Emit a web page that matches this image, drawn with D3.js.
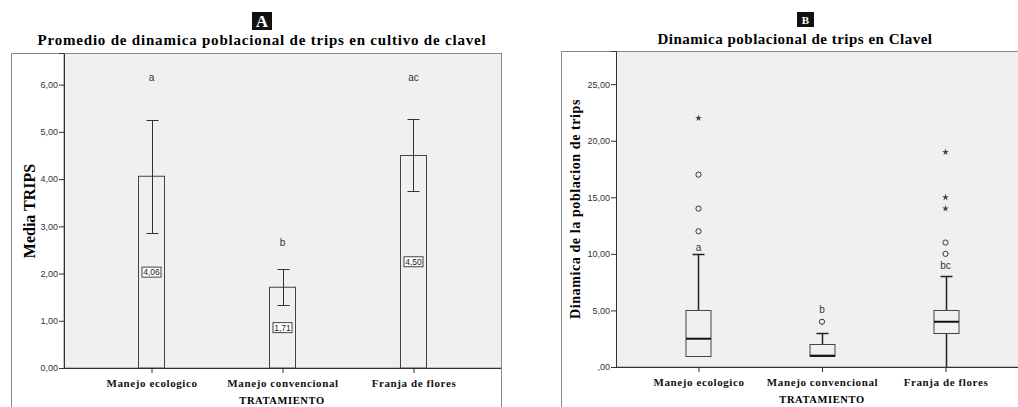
<!DOCTYPE html>
<html>
<head>
<meta charset="utf-8">
<script src="https://cdn.jsdelivr.net/npm/d3@7"></script>
<style>
  body { margin: 0; background: #fff; }
  text { font-family: "Liberation Sans", Arial, sans-serif; }
  .serif { font-family: "Liberation Serif", "Times New Roman", serif; font-weight: bold; }
</style>
</head>
<body>
<div id="chart"></div>
<script>
// data
var categories = ["Manejo ecologico", "Manejo convencional", "Franja de flores"];

// panel A: means with error bars
var meanValues = [4.06, 1.71, 4.50];
var errLow = [2.86, 1.33, 3.74];
var errHigh = [5.25, 2.09, 5.27];
var lettersA = ["a", "b", "ac"];
var lettersAPos = [6.15, 2.65, 6.15];
var ticksA = [0, 1, 2, 3, 4, 5, 6];

// panel B: boxplots
var whiskerLow = [1, 1, 0];
var q1 = [1, 1, 3];
var medians = [2.5, 1, 4];
var q3 = [5, 2, 5];
var whiskerHigh = [10, 3, 8];
var outliers = [[12, 14, 17], [4], [10, 11]];
var extremes = [[22], [], [14, 15, 19]];
var lettersB = ["a", "b", "bc"];
var lettersBPos = [10.6, 5.1, 9.0];
var ticksB = [0, 5, 10, 15, 20, 25];

var width = 1018,
    height = 407;

var svg = d3.select("#chart")
  .append("svg")
    .attr("width", width)
    .attr("height", height);

var fmt = function(d) { return d3.format(".2f")(d).replace(".", ","); };

// ---------- panel A ----------
var xA = d3.scalePoint().domain(categories).range([64, 501]).padding(0.668);
var yA = d3.scaleLinear().domain([0, 6.67]).range([368, 53]);

// outer frame
svg.append("path")
  .attr("d", "M11.5,410 V53.5 H501.5 V410")
  .attr("fill", "none").attr("stroke", "#888");

svg.append("rect")
  .attr("x", 64).attr("y", 53.5)
  .attr("width", 437.5).attr("height", 368 - 53.5)
  .attr("fill", "#f0f0f0").attr("stroke", "#888");

var gA = svg.append("g");

gA.selectAll(".bar")
  .data(meanValues)
  .enter()
  .append("rect")
    .attr("x", function(d, i) { return xA(categories[i]) - 13; })
    .attr("y", function(d) { return yA(d); })
    .attr("width", 26)
    .attr("height", function(d) { return yA(0) - yA(d); })
    .attr("fill", "#f0f0f0")
    .attr("stroke", "#444");

// error bars
gA.selectAll(".err")
  .data(meanValues)
  .enter()
  .append("path")
    .attr("d", function(d, i) {
      var cx = Math.round(xA(categories[i])) + 0.5;
      var lo = Math.round(yA(errLow[i])) + 0.5, hi = Math.round(yA(errHigh[i])) + 0.5;
      return "M" + (cx - 6) + "," + hi + "H" + (cx + 6) +
             "M" + cx + "," + hi + "V" + lo +
             "M" + (cx - 6) + "," + lo + "H" + (cx + 6);
    })
    .attr("fill", "none").attr("stroke", "#333");

// value labels in small boxes
var lab = gA.selectAll(".lab")
  .data(meanValues)
  .enter()
  .append("g")
    .attr("transform", function(d, i) {
      return "translate(" + xA(categories[i]) + "," + yA(d / 2) + ")";
    });
lab.append("rect")
  .attr("x", -9.5).attr("y", -5)
  .attr("width", 19).attr("height", 10)
  .attr("fill", "#fff").attr("stroke", "#444");
lab.append("text")
  .text(function(d) { return d.toFixed(2).replace(".", ","); })
  .attr("text-anchor", "middle")
  .attr("dy", "0.35em")
  .style("font-size", "8.5px")
  .attr("fill", "#222");

gA.selectAll(".let")
  .data(lettersA)
  .enter()
  .append("text")
    .text(function(d) { return d; })
    .attr("x", function(d, i) { return xA(categories[i]); })
    .attr("y", function(d, i) { return yA(lettersAPos[i]); })
    .attr("dy", "0.35em")
    .attr("text-anchor", "middle")
    .style("font-size", "10px")
    .attr("fill", "#333");

var axA = svg.append("g")
  .attr("transform", "translate(64,0)")
  .call(d3.axisLeft(yA).tickValues(ticksA).tickFormat(fmt).tickSize(5).tickPadding(1));
axA.select(".domain").attr("stroke", "#333");
axA.selectAll(".tick line").attr("stroke", "#333");
axA.selectAll(".tick text").style("font-size", "9px").style("font-family", "Liberation Sans, Arial, sans-serif").attr("fill", "#333");

var axAx = svg.append("g")
  .attr("transform", "translate(0,368)")
  .call(d3.axisBottom(xA).tickSize(5).tickPadding(6));
axAx.select(".domain").attr("stroke", "#333").attr("d", "M64,0.5H501");
axAx.selectAll(".tick line").attr("stroke", "#333");
axAx.selectAll(".tick text")
  .attr("class", "serif")
  .style("font-size", "11px")
  .style("letter-spacing", "0.6px")
  .style("font-family", "Liberation Serif, serif")
  .attr("fill", "#111");

svg.append("text").attr("class", "serif")
  .attr("x", 282).attr("y", 404).attr("text-anchor", "middle")
  .style("font-size", "10.5px").style("letter-spacing", "0.6px").text("TRATAMIENTO");

svg.append("text").attr("class", "serif")
  .attr("transform", "translate(35,211) rotate(-90)")
  .attr("text-anchor", "middle")
  .style("font-size", "16px").text("Media TRIPS");

svg.append("rect").attr("x", 252).attr("y", 12).attr("width", 20).attr("height", 18).attr("fill", "#111");
svg.append("text").attr("class", "serif")
  .attr("x", 262).attr("y", 27).attr("text-anchor", "middle")
  .attr("fill", "#fff").style("font-size", "17px").text("A");

svg.append("text").attr("class", "serif")
  .attr("x", 262).attr("y", 45).attr("text-anchor", "middle")
  .style("font-size", "15px").style("letter-spacing", "0.8px")
  .text("Promedio de dinamica poblacional de trips en cultivo de clavel");

// ---------- panel B ----------
var xB = d3.scalePoint().domain(categories).range([616, 1028]).padding(0.668);
var yB = d3.scaleLinear().domain([0, 27.93]).range([367, 51]);

svg.append("path")
  .attr("d", "M561.5,410 V51.5 H1030")
  .attr("fill", "none").attr("stroke", "#888");

svg.append("rect")
  .attr("x", 616.5).attr("y", 51.5)
  .attr("width", 420).attr("height", 367 - 51.5)
  .attr("fill", "#f0f0f0").attr("stroke", "#888");

var gB = svg.append("g");

// whiskers
gB.selectAll(".whisk")
  .data(categories)
  .enter()
  .append("path")
    .attr("d", function(d, i) {
      var cx = Math.round(xB(d)) + 0.5;
      var top = Math.round(yB(whiskerHigh[i])) + 0.5;
      var lo = Math.round(yB(whiskerLow[i])) + 0.5;
      return "M" + (cx - 6) + "," + top + "H" + (cx + 6) +
             "M" + cx + "," + top + "V" + (Math.round(yB(q3[i])) + 0.5) +
             "M" + cx + "," + (Math.round(yB(q1[i])) + 0.5) + "V" + lo;
    })
    .attr("fill", "none").attr("stroke", "#222").attr("stroke-width", 1.5);

gB.selectAll(".box")
  .data(categories)
  .enter()
  .append("rect")
    .attr("x", function(d) { return Math.round(xB(d)) - 12; })
    .attr("y", function(d, i) { return Math.round(yB(q3[i])) + 0.5; })
    .attr("width", 25)
    .attr("height", function(d, i) { return Math.round(yB(q1[i])) - Math.round(yB(q3[i])); })
    .attr("fill", "#f0f0f0")
    .attr("stroke", "#444");

gB.selectAll(".med")
  .data(categories)
  .enter()
  .append("line")
    .attr("x1", function(d) { return Math.round(xB(d)) - 12; })
    .attr("x2", function(d) { return Math.round(xB(d)) + 13; })
    .attr("y1", function(d, i) { return yB(medians[i]); })
    .attr("y2", function(d, i) { return yB(medians[i]); })
    .attr("stroke", "#111").attr("stroke-width", 2);

categories.forEach(function(c, i) {
  gB.selectAll(".out" + i)
    .data(outliers[i])
    .enter()
    .append("circle")
      .attr("cx", xB(c))
      .attr("cy", function(d) { return yB(d); })
      .attr("r", 2.6)
      .attr("fill", "none").attr("stroke", "#333");

  gB.selectAll(".ext" + i)
    .data(extremes[i])
    .enter()
    .append("path")
      .attr("d", d3.symbol().type(d3.symbolStar).size(14))
      .attr("transform", function(d) { return "translate(" + xB(c) + "," + yB(d) + ")"; })
      .attr("fill", "#444");
});

gB.selectAll(".letB")
  .data(lettersB)
  .enter()
  .append("text")
    .text(function(d) { return d; })
    .attr("x", function(d, i) { return xB(categories[i]); })
    .attr("y", function(d, i) { return yB(lettersBPos[i]); })
    .attr("dy", "0.35em")
    .attr("text-anchor", "middle")
    .style("font-size", "10px")
    .attr("fill", "#333");

var fmtB = function(d) { return d === 0 ? ",00" : fmt(d); };
var axB = svg.append("g")
  .attr("transform", "translate(616,0)")
  .call(d3.axisLeft(yB).tickValues(ticksB).tickFormat(fmtB).tickSize(5).tickPadding(1));
axB.select(".domain").attr("stroke", "#333");
axB.selectAll(".tick line").attr("stroke", "#333");
axB.selectAll(".tick text").style("font-size", "9px").style("font-family", "Liberation Sans, Arial, sans-serif").attr("fill", "#333");

var axBx = svg.append("g")
  .attr("transform", "translate(0,367)")
  .call(d3.axisBottom(xB).tickSize(5).tickPadding(6));
axBx.select(".domain").attr("stroke", "#333").attr("d", "M616,0.5H1030");
axBx.selectAll(".tick line").attr("stroke", "#333");
axBx.selectAll(".tick text")
  .attr("class", "serif")
  .style("font-size", "11px")
  .style("letter-spacing", "0.6px")
  .style("font-family", "Liberation Serif, serif")
  .attr("fill", "#111");

svg.append("text").attr("class", "serif")
  .attr("x", 822).attr("y", 403).attr("text-anchor", "middle")
  .style("font-size", "10.5px").style("letter-spacing", "0.6px").text("TRATAMIENTO");

svg.append("text").attr("class", "serif")
  .attr("transform", "translate(580,209) rotate(-90)")
  .attr("text-anchor", "middle")
  .style("font-size", "14px").style("letter-spacing", "0.6px")
  .text("Dinamica de la poblacion de trips");

svg.append("rect").attr("x", 797).attr("y", 12).attr("width", 17).attr("height", 15).attr("fill", "#111");
svg.append("text").attr("class", "serif")
  .attr("x", 805.5).attr("y", 24).attr("text-anchor", "middle")
  .attr("fill", "#fff").style("font-size", "11px").text("B");

svg.append("text").attr("class", "serif")
  .attr("x", 795).attr("y", 44).attr("text-anchor", "middle")
  .style("font-size", "15px").style("letter-spacing", "0.5px")
  .text("Dinamica poblacional de trips en Clavel");
</script>
</body>
</html>
